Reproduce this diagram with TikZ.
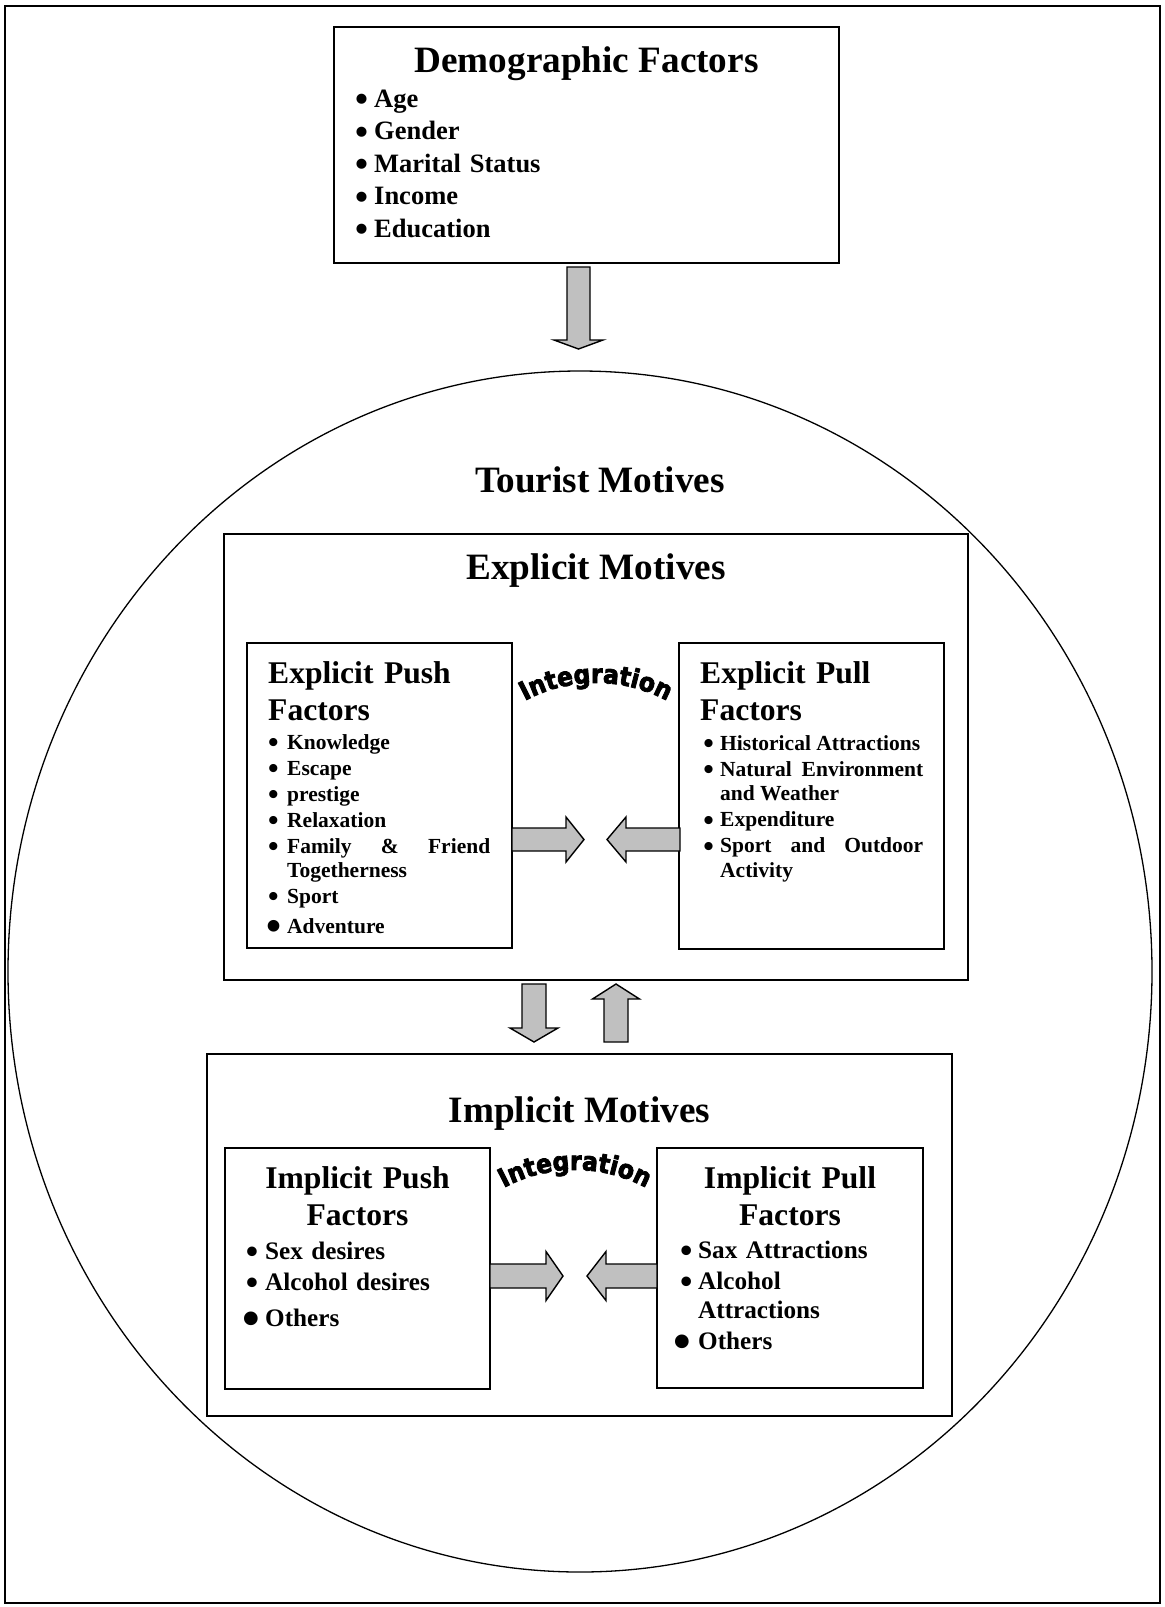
\documentclass[tikz,border=0pt]{standalone}
\usepackage{graphicx}
\usepackage{fontspec}
\setmainfont{Liberation Serif}
\newfontfamily\intfont{DejaVu Sans Condensed}[BoldFeatures={FakeBold=3}]
\usetikzlibrary{decorations.text}
\definecolor{arrgray}{HTML}{C0C0C0}
\newlength\bgap
\newcommand\bul{\raisebox{-0.17em}{\scalebox{1.4}{\textbullet}}}
\newcommand\bigbul{\raisebox{-0.36em}{\scalebox{2.0}{\textbullet}}}
\newcommand\fitem[1]{\noindent\llap{\bul\hspace{\bgap}}#1}
\newcommand\bitem[1]{\par\fitem{#1}}
\newcommand\bigbitem[2]{\par\noindent\llap{\bigbul\hspace{#1}}#2}
\newcommand\hbarrow[6]{\draw[barrow] (#1,#2-#5) -- (#3,#2-#5) -- (#3,#2-#6) -- (#4,#2) -- (#3,#2+#6) -- (#3,#2+#5) -- (#1,#2+#5) -- cycle;}
\newcommand\vbarrow[6]{\draw[barrow] (#1-#5,#2) -- (#1-#5,#3) -- (#1-#6,#3) -- (#1,#4) -- (#1+#6,#3) -- (#1+#5,#3) -- (#1+#5,#2) -- cycle;}
\begin{document}
\begin{tikzpicture}[x=1pt,y=-1pt,
  boxst/.style={draw, line width=1.6pt, fill=white, inner sep=0pt, outer sep=0pt},
  barrow/.style={draw, line width=1.4pt, fill=arrgray, line join=miter},
  ttl/.style={inner sep=0pt, anchor=base, font=\fontsize{37.2}{44}\selectfont\bfseries},
  subttl/.style={inner sep=0pt, font=\fontsize{31.6}{37}\selectfont\bfseries},
  lst/.style={inner sep=0pt, anchor=base west},
  arcword/.style={decorate, decoration={text along path, text align=center,
     text={|\intfont\bfseries\fontsize{26}{26}\selectfont|Integration}}}
]
\useasboundingbox (0,0) rectangle (1165,1607);
\draw[line width=1.5pt] (5,6) rectangle (1160,1603);
\draw[line width=1.3pt] (580,971.5) ellipse [x radius=572pt, y radius=600.5pt];

% boxes
\node[boxst, minimum width=505pt, minimum height=236pt] (demo) at (586.5,145) {};
\node[boxst, minimum width=744pt, minimum height=446pt] (expl) at (596,757) {};
\node[boxst, minimum width=265pt, minimum height=305pt] (epush) at (379.5,795.5) {};
\node[boxst, minimum width=265pt, minimum height=306pt] (epull) at (811.5,796) {};
\node[boxst, minimum width=745pt, minimum height=362pt] (impl) at (579.5,1235) {};
\node[boxst, minimum width=265pt, minimum height=241pt] (ipush) at (357.5,1268.5) {};
\node[boxst, minimum width=266pt, minimum height=240pt] (ipull) at (790,1268) {};

% titles
\node[ttl] (tdemo) at (586.5,72) {Demographic Factors};
\node[ttl] (ttour) at (600,492) {Tourist Motives};
\node[ttl] (texpl) at (596,579) {Explicit Motives};
\node[ttl] (timpl) at (579.5,1122) {Implicit Motives};
\node[subttl, anchor=base west, text width=185pt, align=left] (tepush) at (268,683) {Explicit Push\\Factors};
\node[subttl, anchor=base west, text width=185pt, align=left] (tepull) at (700,683) {Explicit Pull\\Factors};
\node[subttl, anchor=base, text width=200pt, align=center] (tipush) at (357.5,1188) {Implicit Push\\Factors};
\node[subttl, anchor=base, text width=200pt, align=center] (tipull) at (790,1188) {Implicit Pull\\Factors};

% lists
\node[lst, text width=300pt, align=left, font=\fontsize{26.5}{32.5}\selectfont\bfseries] (ldemo) at (374,107)
 {\setlength\bgap{5.8pt}\fitem{Age}\bitem{Gender}\bitem{Marital Status}\bitem{Income}\bitem{Education}};
\node[lst, text width=203pt, align=justify, font=\fontsize{21.5}{24}\selectfont\bfseries] (lepush) at (287,749)
 {\hyphenpenalty=10000\exhyphenpenalty=10000\setlength\parskip{2pt}\setlength\bgap{8.5pt}%
  \fitem{Knowledge}\bitem{Escape}\bitem{prestige}\bitem{Relaxation}\bitem{Family \& Friend Togetherness}\bitem{Sport}%
  \par\vspace{4pt}\bigbitem{5.8pt}{Adventure}};
\node[lst, text width=203pt, align=justify, font=\fontsize{21.5}{24.5}\selectfont\bfseries] (lepull) at (720,750)
 {\hyphenpenalty=10000\exhyphenpenalty=10000\setlength\parskip{1.5pt}\setlength\bgap{6.2pt}%
  \fitem{Historical Attractions}\bitem{Natural Environment and Weather}\bitem{Expenditure}\bitem{Sport and Outdoor Activity}};
\node[lst, text width=215pt, align=left, font=\fontsize{25.2}{28.5}\selectfont\bfseries] (lipush) at (265,1259)
 {\hyphenpenalty=10000\setlength\parskip{3pt}\setlength\bgap{7.1pt}%
  \fitem{Sex desires}\bitem{Alcohol desires}\par\vspace{4.5pt}\bigbitem{5.5pt}{Others}};
\node[lst, text width=200pt, align=left, font=\fontsize{25.2}{28.5}\selectfont\bfseries] (lipull) at (698,1258)
 {\hyphenpenalty=10000\setlength\parskip{3pt}\setlength\bgap{5.8pt}%
  \fitem{Sax Attractions}\bitem{Alcohol Attractions}\bigbitem{7pt}{Others}};

% integration words
\path[arcword] (518.7,704.4) .. controls (566.3,675.8) and (625.7,675.8) .. (673.3,704.4);
\path[arcword] (497.7,1191.4) .. controls (545.3,1162.8) and (604.7,1162.8) .. (652.3,1191.4);

% block arrows
\vbarrow{578.5}{267}{340}{349}{11.5}{24.5}
\hbarrow{512}{839.5}{566}{584}{11.5}{22.5}
\hbarrow{680}{839.5}{626}{607}{11.5}{22.5}
\vbarrow{534}{984}{1028}{1042}{12}{24}
\vbarrow{616}{1042}{999}{984}{12}{23.5}
\hbarrow{490}{1276}{546}{563}{12}{24.5}
\hbarrow{657}{1276}{606}{587}{12}{24.5}
\end{tikzpicture}
\end{document}
